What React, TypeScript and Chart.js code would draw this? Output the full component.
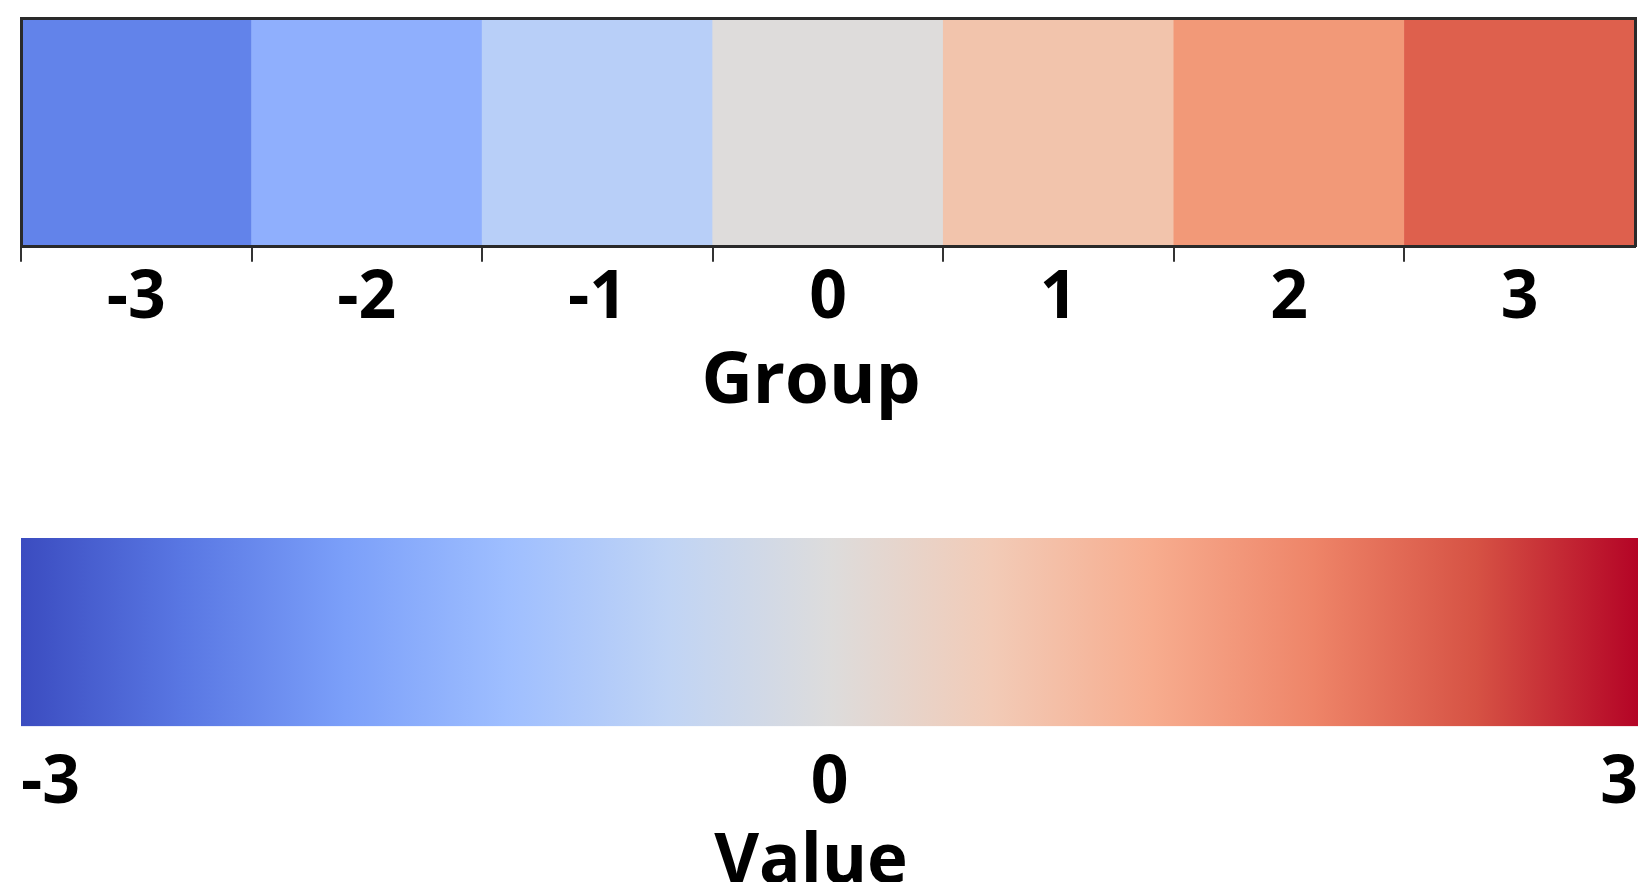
import React, { useEffect, useRef } from 'react';
import { Chart, registerables } from 'chart.js';

Chart.register(...registerables);

// ---- Data ----
const GROUP_LABELS = ['-3', '-2', '-1', '0', '1', '2', '3'];
const GROUP_VALUES = [1, 1, 1, 1, 1, 1, 1];
const GROUP_COLORS = ['#6283EA', '#8FAFFD', '#B8CFF8', '#DEDCDB', '#F2C4AC', '#F29978', '#DE604D'];
const GROUP_TITLE = 'Group';

const VALUE_RANGE = [-3, 3];
const VALUE_TICKS = [-3, 0, 3];
const COOLWARM_STOPS = ['#3b4cc0', '#5977e3', '#7b9ff9', '#9ebeff', '#c0d4f5', '#dddcdc', '#f2cbb7', '#f7ac8e', '#ee8468', '#d65244', '#b40426'];
const VALUE_TITLE = 'Value';

const FONT_FAMILY = '"Open Sans", "DejaVu Sans", sans-serif';
const TICK_FONT = { family: FONT_FAMILY, size: 66, weight: 'bold' as const };
const GROUP_TITLE_FONT = { family: FONT_FAMILY, size: 71, weight: 'bold' as const };
const VALUE_TITLE_FONT = { family: FONT_FAMILY, size: 69, weight: 'bold' as const };
const BORDER_COLOR = '#2a2a2a';

export default function App() {
  const topRef = useRef<HTMLCanvasElement>(null);
  const botRef = useRef<HTMLCanvasElement>(null);

  useEffect(() => {
    const frame = {
      display: true,
      grid: { display: false },
      ticks: { display: false },
      border: { display: true, color: BORDER_COLOR, width: 3, z: 1 },
    };
    const hidden = {
      display: true,
      grid: { display: false },
      ticks: { display: false },
      border: { display: false },
    };
    const isRealTick = (c: any) => c && c.type === 'tick' && c.index < GROUP_LABELS.length;
    const top = new Chart(topRef.current!, {
      type: 'bar',
      data: {
        labels: GROUP_LABELS,
        datasets: [
          {
            data: GROUP_VALUES,
            backgroundColor: GROUP_COLORS,
            borderWidth: 0,
            barPercentage: 1,
            categoryPercentage: 1,
          },
        ],
      },
      options: {
        responsive: false,
        animation: false,
        layout: { padding: { top: 18, left: 0, right: 0, bottom: 0 } },
        plugins: {
          legend: { display: false },
          tooltip: { enabled: false },
          title: {
            display: true,
            text: GROUP_TITLE,
            position: 'bottom',
            color: '#000',
            font: GROUP_TITLE_FONT,
            padding: { top: 0, bottom: 15 },
          },
        },
        scales: {
          x: {
            type: 'category',
            position: 'bottom',
            offset: true,
            grid: {
              display: true,
              offset: true,
              drawOnChartArea: false,
              drawTicks: true,
              tickLength: 15,
              lineWidth: (c: any) => (isRealTick(c) ? 2 : 0),
              tickWidth: (c: any) => (isRealTick(c) ? 2 : 0),
              color: (c: any) => (isRealTick(c) ? '#333' : 'rgba(0,0,0,0)'),
              tickColor: (c: any) => (isRealTick(c) ? '#333' : 'rgba(0,0,0,0)'),
            },
            border: { display: true, color: BORDER_COLOR, width: 3, z: 1 },
            ticks: { color: '#000', font: TICK_FONT, padding: -2, maxRotation: 0, autoSkip: false },
            afterFit: (s: any) => {
              s.height = 93;
            },
          },
          x2: {
            type: 'linear',
            position: 'top',
            ...frame,
            afterFit: (s: any) => {
              s.height = 0;
            },
          },
          y: {
            min: 0,
            max: 1,
            position: 'left',
            ...frame,
            afterFit: (s: any) => {
              s.width = 41;
            },
          },
          y2: {
            type: 'linear',
            position: 'right',
            ...frame,
            afterFit: (s: any) => {
              s.width = 7;
            },
          },
        },
      } as any,
    });

    const bottom = new Chart(botRef.current!, {
      type: 'bar',
      data: {
        labels: [VALUE_TITLE],
        datasets: [
          {
            data: [VALUE_RANGE] as any,
            backgroundColor: (c: any) => {
              const chart = c.chart;
              const area = chart.chartArea;
              if (!area) return COOLWARM_STOPS[0];
              const g = chart.ctx.createLinearGradient(area.left, 0, area.right, 0);
              COOLWARM_STOPS.forEach((s, i) => g.addColorStop(i / (COOLWARM_STOPS.length - 1), s));
              return g;
            },
            borderWidth: 0,
            barPercentage: 1,
            categoryPercentage: 1,
          },
        ],
      },
      options: {
        indexAxis: 'y',
        responsive: false,
        animation: false,
        layout: { padding: { top: 98, left: 0, right: 0, bottom: 0 } },
        plugins: {
          legend: { display: false },
          tooltip: { enabled: false },
          title: {
            display: true,
            text: VALUE_TITLE,
            position: 'bottom',
            color: '#000',
            font: VALUE_TITLE_FONT,
            padding: { top: 0, bottom: 15 },
          },
        },
        scales: {
          x: {
            type: 'linear',
            min: VALUE_RANGE[0],
            max: VALUE_RANGE[1],
            grid: { display: false },
            border: { display: false },
            ticks: { color: '#000', font: TICK_FONT, padding: 10, align: 'inner', maxRotation: 0 },
            afterBuildTicks: (s: any) => {
              s.ticks = VALUE_TICKS.map((v) => ({ value: v }));
            },
            afterFit: (s: any) => {
              s.height = 96;
              s.paddingLeft = 0;
              s.paddingRight = 0;
            },
          },
          y: {
            position: 'left',
            ...hidden,
            afterFit: (s: any) => {
              s.width = 41;
            },
          },
          y2: {
            type: 'linear',
            position: 'right',
            ...hidden,
            afterFit: (s: any) => {
              s.width = 4;
            },
          },
        },
      } as any,
    });

    return () => {
      top.destroy();
      bottom.destroy();
    };
  }, []);

  return (
    <div
      style={{
        position: 'fixed',
        top: 0,
        left: 0,
        width: 1642,
        height: 882,
        overflow: 'hidden',
        background: '#fff',
      }}
    >
      <canvas ref={topRef} width={1662} height={440} style={{ display: 'block', marginLeft: -20 }} />
      <canvas ref={botRef} width={1662} height={480} style={{ display: 'block', marginLeft: -20 }} />
    </div>
  );
}
